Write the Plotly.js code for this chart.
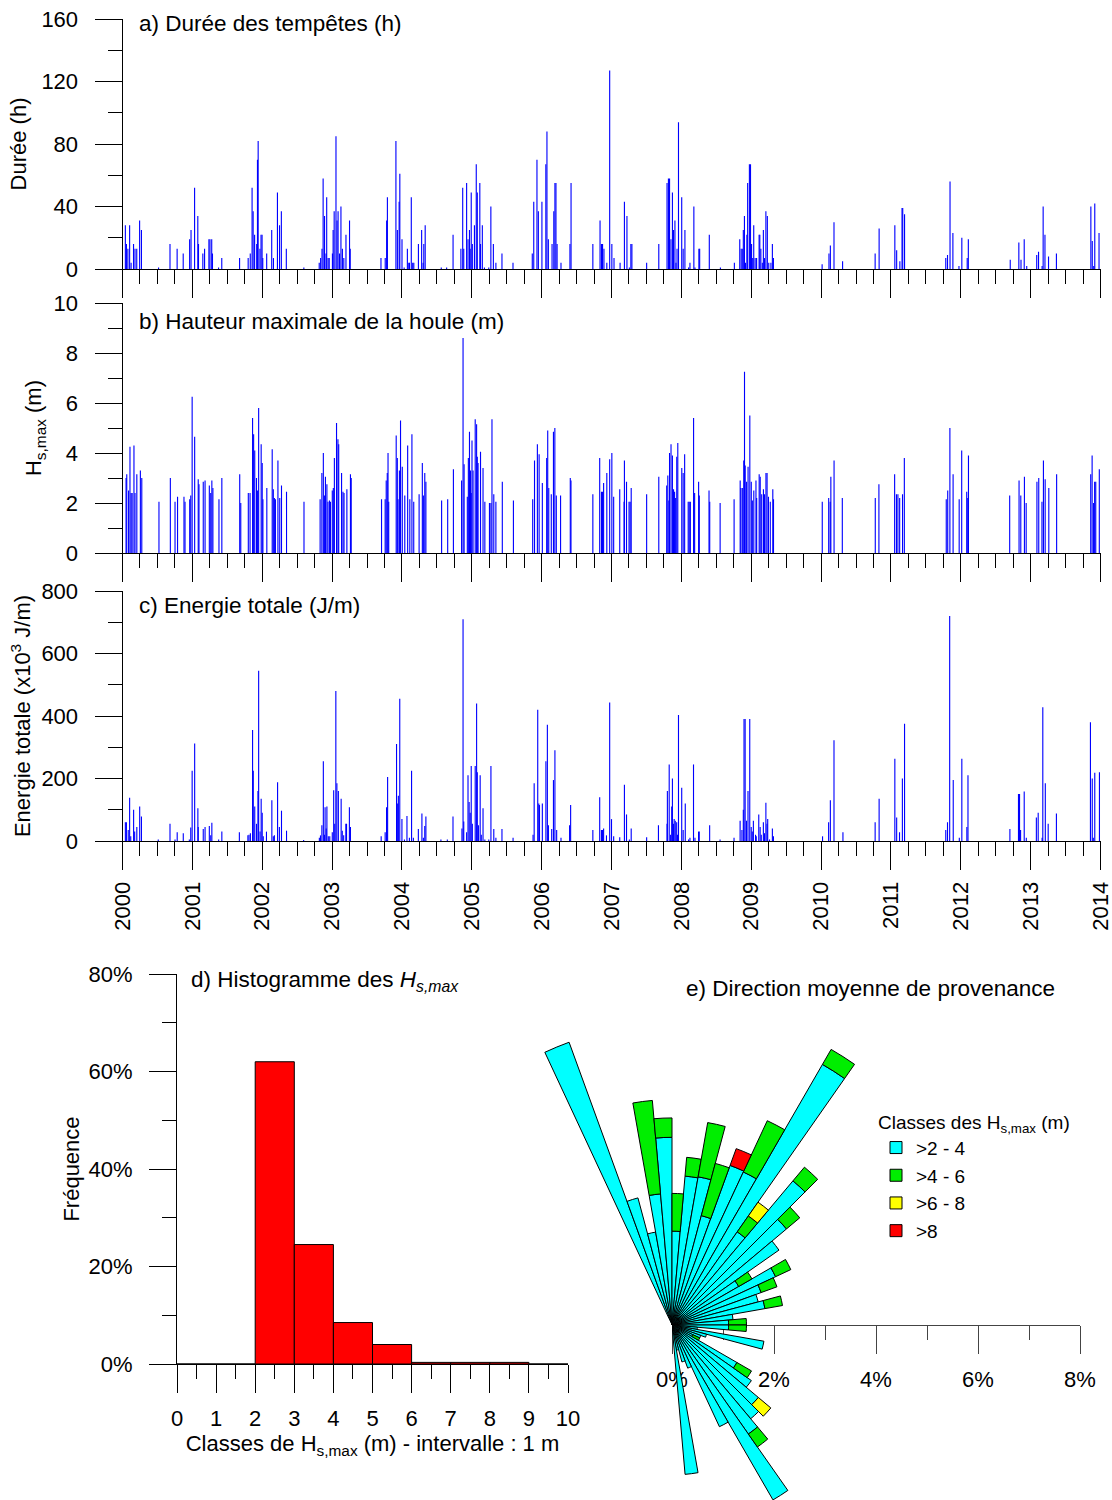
<!DOCTYPE html>
<html>
<head>
<meta charset="utf-8">
<script src="https://cdn.plot.ly/plotly-3.0.1.min.js"></script>
<style>
html,body{margin:0;padding:0;background:#fff;overflow:hidden}
#wrap{width:1112px;height:1500px;overflow:hidden;position:relative}
#chart{width:1112px;height:1800px}
</style>
</head>
<body>
<div id="wrap"><div id="chart"></div></div>
<script>
// ---------- a) storm duration (h) ----------
const durDates = [2000.041,2000.056,2000.077,2000.102,2000.123,2000.158,2000.179,2000.204,2000.245,2000.271,2000.516,2000.680,2000.782,2000.869,2000.961,2000.981,2001.032,2001.078,2001.088,2001.150,2001.175,2001.237,2001.252,2001.277,2001.288,2001.375,2001.421,2001.676,2001.799,2001.829,2001.855,2001.870,2001.891,2001.921,2001.932,2001.942,2001.967,2001.983,2001.998,2002.008,2002.064,2002.136,2002.161,2002.218,2002.248,2002.274,2002.345,2002.596,2002.816,2002.836,2002.856,2002.872,2002.892,2002.913,2002.923,2002.943,2002.959,2003.005,2003.015,2003.030,2003.056,2003.071,2003.086,2003.107,2003.127,2003.148,2003.168,2003.199,2003.250,2003.260,2003.700,2003.761,2003.781,2003.792,2003.914,2003.935,2003.960,2003.970,2004.001,2004.032,2004.078,2004.098,2004.108,2004.134,2004.154,2004.170,2004.236,2004.282,2004.303,2004.313,2004.333,2004.563,2004.640,2004.732,2004.844,2004.870,2004.885,2004.926,2004.946,2004.967,2004.977,2004.992,2005.008,2005.038,2005.064,2005.079,2005.115,2005.125,2005.151,2005.181,2005.243,2005.273,2005.309,2005.345,2005.432,2005.590,2005.866,2005.887,2005.933,2005.953,2006.004,2006.060,2006.076,2006.096,2006.149,2006.174,2006.190,2006.205,2006.221,2006.277,2006.405,2006.421,2006.733,2006.836,2006.856,2006.872,2006.892,2006.933,2006.974,2007.005,2007.036,2007.123,2007.185,2007.221,2007.256,2007.277,2007.292,2007.503,2007.677,2007.795,2007.815,2007.831,2007.851,2007.872,2007.887,2007.908,2007.923,2007.938,2007.959,2008.005,2008.026,2008.051,2008.103,2008.123,2008.179,2008.195,2008.251,2008.262,2008.400,2008.559,2008.759,2008.836,2008.856,2008.872,2008.887,2008.903,2008.918,2008.938,2008.949,2008.974,2008.990,2009.005,2009.021,2009.036,2009.056,2009.077,2009.113,2009.123,2009.138,2009.159,2009.174,2009.190,2009.210,2009.231,2009.251,2009.282,2009.303,2009.318,2010.015,2010.113,2010.133,2010.185,2010.308,2010.774,2010.831,2011.056,2011.082,2011.128,2011.159,2011.169,2011.195,2011.785,2011.810,2011.846,2011.887,2011.974,2012.015,2012.092,2012.108,2012.708,2012.831,2012.862,2012.908,2012.944,2013.087,2013.113,2013.164,2013.179,2013.205,2013.256,2013.369,2013.862,2013.882,2013.903,2013.918,2013.979];
const durHours = [28,16,13,28,4,16,13,13,31,25,1,16,13,10,19,25,52,34,16,10,13,19,19,19,10,1,7,7,7,10,52,37,22,16,70,82,13,22,22,7,10,25,7,49,28,37,13,1,4,7,13,58,34,10,46,7,7,10,25,37,85,31,37,10,40,13,7,22,31,13,7,7,31,46,82,25,43,61,19,1,13,4,4,46,4,4,16,25,4,16,28,1,1,22,13,52,13,55,19,25,13,49,16,28,67,49,55,16,28,1,1,40,16,4,10,4,10,43,70,37,43,67,88,19,16,37,55,55,16,4,16,55,16,31,16,16,13,4,127,16,7,4,43,34,1,16,16,4,16,55,58,58,19,49,25,31,4,13,94,46,13,25,1,4,40,1,13,13,22,1,4,19,13,13,25,34,4,22,55,67,67,16,7,28,7,7,22,22,13,4,25,7,37,34,4,4,16,7,3,10,15,30,5,10,26,28,12,5,39,39,35,7,9,56,23,2,20,7,19,6,17,6,19,2,9,11,2,40,22,8,10,40,18,2,42,23];

// ---------- b) maximum significant wave height (m) ----------
const hsDates = [2000.051,2000.061,2000.087,2000.107,2000.123,2000.138,2000.164,2000.179,2000.205,2000.256,2000.276,2000.522,2000.685,2000.752,2000.788,2000.880,2000.895,2000.962,2000.977,2000.997,2001.033,2001.084,2001.095,2001.156,2001.182,2001.243,2001.263,2001.279,2001.294,2001.381,2001.422,2001.678,2001.693,2001.801,2001.826,2001.862,2001.877,2001.893,2001.918,2001.934,2001.949,2001.985,2002.000,2002.010,2002.066,2002.143,2002.159,2002.174,2002.189,2002.225,2002.251,2002.276,2002.348,2002.598,2002.829,2002.854,2002.875,2002.890,2002.905,2002.926,2002.941,2002.962,2002.977,2003.003,2003.018,2003.033,2003.064,2003.084,2003.095,2003.136,2003.156,2003.171,2003.212,2003.263,2003.274,2003.708,2003.760,2003.775,2003.790,2003.801,2003.811,2003.918,2003.934,2003.944,2003.964,2003.980,2004.005,2004.041,2004.082,2004.113,2004.143,2004.169,2004.246,2004.292,2004.307,2004.327,2004.343,2004.568,2004.655,2004.737,2004.854,2004.875,2004.890,2004.936,2004.951,2004.967,2004.982,2004.992,2005.003,2005.018,2005.049,2005.069,2005.079,2005.090,2005.125,2005.161,2005.187,2005.253,2005.274,2005.289,2005.315,2005.345,2005.437,2005.596,2005.872,2005.898,2005.939,2005.964,2006.010,2006.072,2006.087,2006.102,2006.138,2006.169,2006.189,2006.210,2006.271,2006.410,2006.420,2006.733,2006.831,2006.856,2006.872,2006.887,2006.933,2006.974,2007.005,2007.031,2007.118,2007.180,2007.185,2007.215,2007.251,2007.267,2007.282,2007.503,2007.677,2007.790,2007.806,2007.821,2007.831,2007.852,2007.872,2007.888,2007.903,2007.918,2007.934,2007.949,2008.006,2008.026,2008.047,2008.098,2008.113,2008.129,2008.175,2008.190,2008.247,2008.257,2008.396,2008.406,2008.555,2008.755,2008.842,2008.852,2008.873,2008.893,2008.904,2008.914,2008.934,2008.955,2008.980,2009.001,2009.016,2009.037,2009.068,2009.078,2009.114,2009.129,2009.150,2009.175,2009.191,2009.211,2009.227,2009.247,2009.273,2009.309,2009.319,2010.017,2010.109,2010.130,2010.140,2010.186,2010.304,2010.776,2010.828,2011.053,2011.079,2011.100,2011.125,2011.166,2011.192,2011.792,2011.813,2011.844,2011.890,2011.977,2012.013,2012.085,2012.100,2012.110,2012.700,2012.834,2012.859,2012.911,2012.936,2013.090,2013.116,2013.162,2013.183,2013.208,2013.260,2013.372,2013.860,2013.880,2013.901,2013.916,2013.932,2013.983];
const hsMax = [3.0,3.15,2.5,4.25,2.4,2.4,4.3,2.4,3.15,3.3,3.0,2.05,3.0,2.05,2.25,2.25,2.05,2.15,2.3,6.25,4.65,2.95,2.75,2.85,2.9,2.7,2.4,2.9,2.6,2.15,3.0,3.15,2.0,2.4,2.4,5.4,4.75,4.1,3.0,2.5,5.8,4.35,3.6,2.15,2.6,4.15,2.55,2.2,2.15,3.7,2.2,2.7,2.45,2.05,2.15,3.2,4.0,2.3,3.05,2.75,2.05,2.1,2.05,2.5,2.6,3.8,5.2,4.55,4.35,3.2,2.45,2.4,2.55,3.15,3.0,2.15,2.15,2.9,3.2,4.0,2.05,4.7,3.8,2.15,3.3,5.3,3.45,2.3,4.3,2.15,4.75,2.05,2.35,3.6,2.3,3.2,2.85,2.1,2.15,3.35,2.9,8.6,3.55,2.25,3.8,4.85,3.3,2.4,4.5,3.3,5.35,5.15,3.85,3.6,4.05,3.4,2.05,2.0,2.0,5.35,2.35,2.05,2.85,2.1,2.15,3.7,4.35,3.95,2.8,3.8,4.9,2.6,2.35,4.85,5.0,2.3,2.3,3.0,2.9,2.35,3.8,2.45,2.45,2.8,3.2,3.75,4.0,2.25,2.55,2.05,3.7,2.85,2.05,2.05,2.6,2.35,3.05,2.7,3.1,2.1,4.0,4.35,3.9,2.55,2.45,2.2,3.85,4.4,3.4,3.2,3.95,2.05,2.05,2.05,5.4,2.4,2.85,2.3,2.5,2.05,2.0,2.15,2.9,2.6,2.6,3.7,7.25,3.5,2.85,3.45,5.5,2.85,2.1,2.5,2.9,2.2,3.15,3.05,2.35,2.55,2.35,3.2,3.2,2.25,2.05,2.55,2.15,2.05,2.2,2.05,3.05,3.7,2.2,2.2,2.75,3.15,2.35,2.35,2.2,2.35,3.8,2.15,2.5,5.0,3.15,2.15,4.1,2.45,2.2,3.9,2.3,2.9,2.3,3.05,2.0,2.85,3.0,2.05,3.7,2.95,2.6,3.15,3.15,3.9,2.0,2.85,2.85,3.35];

// ---------- c) total energy (x10^3 J/m) ----------
const enDates = [2000.041,2000.056,2000.082,2000.102,2000.118,2000.159,2000.174,2000.205,2000.246,2000.271,2000.512,2000.680,2000.752,2000.783,2000.870,2000.957,2000.977,2000.997,2001.033,2001.079,2001.084,2001.156,2001.182,2001.243,2001.263,2001.279,2001.376,2001.422,2001.673,2001.795,2001.811,2001.831,2001.862,2001.872,2001.893,2001.918,2001.939,2001.949,2001.969,2001.985,2002.000,2002.015,2002.061,2002.138,2002.159,2002.174,2002.220,2002.246,2002.276,2002.348,2002.593,2002.818,2002.834,2002.854,2002.875,2002.890,2002.900,2002.916,2002.926,2002.946,2002.967,2003.003,2003.023,2003.038,2003.054,2003.069,2003.090,2003.130,2003.146,2003.166,2003.197,2003.207,2003.248,2003.263,2003.703,2003.760,2003.780,2003.795,2003.923,2003.939,2003.949,2003.969,2004.000,2004.036,2004.072,2004.107,2004.138,2004.164,2004.235,2004.286,2004.307,2004.327,2004.343,2004.558,2004.650,2004.731,2004.859,2004.875,2004.885,2004.926,2004.946,2004.962,2004.977,2004.992,2005.008,2005.049,2005.069,2005.079,2005.095,2005.120,2005.136,2005.161,2005.187,2005.243,2005.274,2005.315,2005.345,2005.432,2005.591,2005.877,2005.893,2005.944,2005.959,2005.969,2006.010,2006.061,2006.082,2006.097,2006.144,2006.169,2006.190,2006.215,2006.277,2006.400,2006.415,2006.733,2006.831,2006.856,2006.872,2006.887,2006.928,2006.974,2007.000,2007.031,2007.118,2007.185,2007.215,2007.256,2007.282,2007.503,2007.672,2007.795,2007.800,2007.826,2007.846,2007.862,2007.872,2007.887,2007.897,2007.913,2007.933,2007.944,2007.959,2008.005,2008.026,2008.056,2008.103,2008.123,2008.174,2008.195,2008.246,2008.256,2008.405,2008.554,2008.754,2008.841,2008.867,2008.887,2008.897,2008.913,2008.933,2008.954,2008.979,2009.000,2009.015,2009.031,2009.062,2009.072,2009.108,2009.128,2009.144,2009.174,2009.190,2009.210,2009.226,2009.236,2009.262,2009.303,2009.318,2010.021,2010.108,2010.133,2010.185,2010.313,2010.774,2010.831,2011.056,2011.082,2011.123,2011.164,2011.195,2011.785,2011.810,2011.841,2011.892,2011.979,2012.015,2012.087,2012.103,2012.703,2012.826,2012.841,2012.856,2012.908,2012.938,2013.082,2013.108,2013.164,2013.174,2013.210,2013.251,2013.369,2013.856,2013.882,2013.897,2013.918,2013.985];
const energyTot = [60,60,35,138,15,100,30,45,110,78,5,55,5,28,25,5,43,225,312,105,45,38,45,48,18,58,5,30,28,18,20,25,355,225,110,55,160,545,30,135,90,15,30,130,15,18,188,45,97,33,3,10,18,50,255,20,108,40,110,15,15,28,162,55,480,185,160,135,33,18,55,55,108,45,15,28,108,205,310,120,145,455,70,5,80,10,225,10,38,88,10,48,78,5,5,78,40,710,62,28,210,125,90,240,55,240,440,220,50,210,20,105,5,5,240,38,10,38,10,20,185,420,120,115,120,255,372,50,38,195,290,35,10,50,115,35,140,35,35,40,18,443,70,15,12,180,85,5,40,12,50,55,160,245,20,110,200,55,70,65,60,20,403,170,35,120,5,10,245,10,30,30,50,5,10,65,35,100,390,390,65,160,390,45,30,65,20,15,85,45,20,60,25,122,55,70,5,40,15,15,60,130,322,28,60,135,263,75,28,200,375,35,60,720,195,10,263,45,210,38,150,150,35,158,10,75,90,10,428,185,55,88,380,200,10,218,220];

// ---------- d) histogram of Hs,max ----------
const hsClassLower = [0,1,2,3,4,5,6,7,8,9];
const hsClassFreq  = [0,0,62,24.5,8.5,4,0.33,0.33,0.33,0];

// ---------- e) mean direction (compass deg) and frequency (%) per Hs class ----------
const dirDeg   = [337.5,342.5,347.5,352.5,357.5,2.5,7.5,12.5,17.5,22.5,27.5,32.5,37.5,42.5,47.5,52.5,57.5,62.5,67.5,72.5,77.5,82.5,87.5,92.5,97.5,102.5,107.5,112.5,117.5,122.5,127.5,132.5,137.5,142.5,147.5,152.5,157.5,162.5,167.5,172.5];
const freq2to4 = [5.90,2.58,1.85,2.58,3.68,1.84,2.93,2.95,2.22,3.33,3.31,5.90,2.23,3.69,2.93,2.56,1.51,2.24,1.86,1.75,1.85,1.20,1.11,1.11,0.50,1.83,0.70,0.60,0.45,1.47,1.90,2.21,2.40,2.61,3.96,2.20,0.90,0.75,0.50,2.94];
const freq4to6 = [0,0,0,1.84,0.38,0.74,0.37,1.08,1.06,0,1.11,0.34,0.38,0.35,0.34,0,0.30,0.33,0.33,0,0.35,0,0.35,0.35,0,0,0,0,0.15,0.33,0,0,0,0.31,0,0,0,0,0,0];
const freq6to8 = [0,0,0,0,0,0,0,0,0,0,0,0,0.33,0,0,0,0,0,0,0,0,0,0,0,0,0,0,0,0,0,0,0.32,0,0,0,0,0,0,0,0];
const freqAbove8 = [0,0,0,0,0,0,0,0,0,0.35,0,0,0,0,0,0,0,0,0,0,0,0,0,0,0,0,0,0,0,0,0,0,0,0,0,0,0,0,0,0];
const classNames = ['>2 - 4','>4 - 6','>6 - 8','>8'];
const classColors = ['#00ffff','#00ee00','#ffff00','#ff0000'];

// ---------- layout helpers ----------
const W = 1112, H = 1800;
const px = v => v / W;
const py = v => 1 - v / H;
const FONT = 'Liberation Sans, Arial, Helvetica, sans-serif';
const AX = '#000';

function tsX(anchor, labels) {
  return {
    domain: [px(122.5), px(1100.5)], range: [2000, 2014], anchor: anchor,
    showline: true, linecolor: AX, linewidth: 1, zeroline: false, showgrid: false,
    ticks: 'outside', ticklen: 28, tickwidth: 1, tickcolor: AX,
    tick0: 2000, dtick: 1, tickformat: 'd', showticklabels: labels, tickangle: -90,
    ticklabelstandoff: 3, ticklabeloverflow: 'allow', tickfont: {size: 22},
    minor: {dtick: 0.25, ticks: 'outside', ticklen: 14, tickwidth: 1, tickcolor: AX, showgrid: false},
    fixedrange: true
  };
}
function tsY(anchor, top, bottom, range, dtick, title, standoff) {
  return {
    domain: [py(bottom), py(top)], range: range, anchor: anchor,
    showline: true, linecolor: AX, linewidth: 1, zeroline: false, showgrid: false,
    ticks: 'outside', ticklen: 27, tickwidth: 1, tickcolor: AX, dtick: dtick,
    ticklabelstandoff: 12, tickfont: {size: 22},
    minor: {dtick: dtick / 2, ticks: 'outside', ticklen: 14, tickwidth: 1, tickcolor: AX, showgrid: false},
    title: {text: title, standoff: standoff, font: {size: 22}},
    fixedrange: true
  };
}

const spike = (x, y, xa, ya) => ({
  type: 'bar', x: x, y: y, xaxis: xa, yaxis: ya, width: 0.016,
  marker: {color: '#0000ff', line: {width: 0}}, showlegend: false, hoverinfo: 'skip'
});

const traces = [
  spike(durDates, durHours, 'x', 'y'),
  spike(hsDates, hsMax, 'x2', 'y2'),
  spike(enDates, energyTot, 'x3', 'y3'),
  {type: 'bar', x: hsClassLower, y: hsClassFreq, xaxis: 'x4', yaxis: 'y4', width: 1, offset: 0,
   marker: {color: '#ff0000', line: {color: '#000', width: 1}}, showlegend: false, hoverinfo: 'skip'},
  {type: 'scatter', x: [], y: [], xaxis: 'x5', yaxis: 'y5', showlegend: false, hoverinfo: 'skip'}
];

const roseSeries = [freq2to4, freq4to6, freq6to8, freqAbove8];
roseSeries.forEach((vals, k) => {
  const th = [], rr = [];
  vals.forEach((v, i) => { if (v > 0) { th.push(dirDeg[i]); rr.push(v); } });
  traces.push({
    type: 'barpolar', subplot: 'polar', r: rr, theta: th, width: 5,
    name: classNames[k], marker: {color: classColors[k], line: {color: '#000', width: 1}},
    hoverinfo: 'skip'
  });
});

const layout = {
  width: W, height: H,
  margin: {l: 0, r: 0, t: 0, b: 0},
  paper_bgcolor: '#fff', plot_bgcolor: 'rgba(0,0,0,0)',
  font: {family: FONT, size: 22, color: '#000'},
  barmode: 'overlay',
  showlegend: true,
  xaxis: tsX('y', false),
  yaxis: tsY('x', 19, 269, [0, 160], 40, 'Durée (h)', 8),
  xaxis2: tsX('y2', false),
  yaxis2: tsY('x2', 303, 553, [0, 10], 2, 'H<sub>s,max</sub> (m)', 5),
  xaxis3: tsX('y3', true),
  yaxis3: tsY('x3', 591, 841, [0, 800], 200, 'Energie totale (x10<sup>3</sup> J/m)', 4),
  xaxis4: {
    domain: [px(177), px(568)], range: [0, 10], anchor: 'y4',
    showline: true, linecolor: AX, zeroline: false, showgrid: false,
    ticks: 'outside', ticklen: 28, tickcolor: AX, dtick: 1, ticklabelstandoff: 7,
    minor: {dtick: 0.5, ticks: 'outside', ticklen: 14, tickcolor: AX, showgrid: false},
    title: {text: 'Classes de H<sub>s,max</sub> (m) - intervalle : 1 m', standoff: 2, font: {size: 22}},
    fixedrange: true
  },
  yaxis4: {
    domain: [py(1364), py(974)], range: [0, 80], anchor: 'x4',
    showline: true, linecolor: AX, zeroline: false, showgrid: false,
    ticks: 'outside', ticklen: 27, tickcolor: AX, dtick: 20, ticksuffix: '%', ticklabelstandoff: 12,
    minor: {dtick: 10, ticks: 'outside', ticklen: 14, tickcolor: AX, showgrid: false},
    title: {text: 'Fréquence', standoff: 2, font: {size: 22}},
    fixedrange: true
  },
  xaxis5: {
    domain: [px(672), px(1080)], range: [0, 8], anchor: 'y5',
    showline: true, linecolor: '#444', zeroline: false, showgrid: false,
    ticks: 'outside', ticklen: 28, tickcolor: '#444', dtick: 2, ticksuffix: '%', ticklabelstandoff: 7,
    ticklabeloverflow: 'allow',
    minor: {dtick: 1, ticks: 'outside', ticklen: 14, tickcolor: '#444', showgrid: false},
    fixedrange: true
  },
  yaxis5: {domain: [py(1325), py(1320)], range: [0, 1], anchor: 'x5', visible: false, fixedrange: true},
  polar: {
    domain: {x: [px(468), px(1080)], y: [py(1733), py(917)]},
    sector: [-90, 120], bgcolor: 'rgba(0,0,0,0)', barmode: 'stack', bargap: 0,
    radialaxis: {range: [0, 8], visible: false},
    angularaxis: {rotation: 90, direction: 'clockwise', visible: false}
  },
  legend: {
    x: px(876), y: py(1104), xanchor: 'left', yanchor: 'top',
    bgcolor: 'rgba(0,0,0,0)', font: {size: 19},
    title: {text: 'Classes des H<sub>s,max</sub> (m)', font: {size: 19}},
    traceorder: 'normal', itemwidth: 30
  },
  annotations: [
    {text: 'a) Durée des tempêtes (h)', x: px(137), y: py(24)},
    {text: 'b) Hauteur maximale de la houle (m)', x: px(137), y: py(321)},
    {text: 'c) Energie totale (J/m)', x: px(137), y: py(605)},
    {text: 'd) Histogramme des <i>H<sub>s,max</sub></i>', x: px(189), y: py(981)},
    {text: 'e) Direction moyenne de provenance', x: px(684), y: py(988)}
  ].map(a => Object.assign({xref: 'paper', yref: 'paper', xanchor: 'left', yanchor: 'middle',
    showarrow: false, font: {size: 22.5}}, a))
};

Plotly.newPlot('chart', traces, layout, {displayModeBar: false, staticPlot: true});
</script>
</body>
</html>
